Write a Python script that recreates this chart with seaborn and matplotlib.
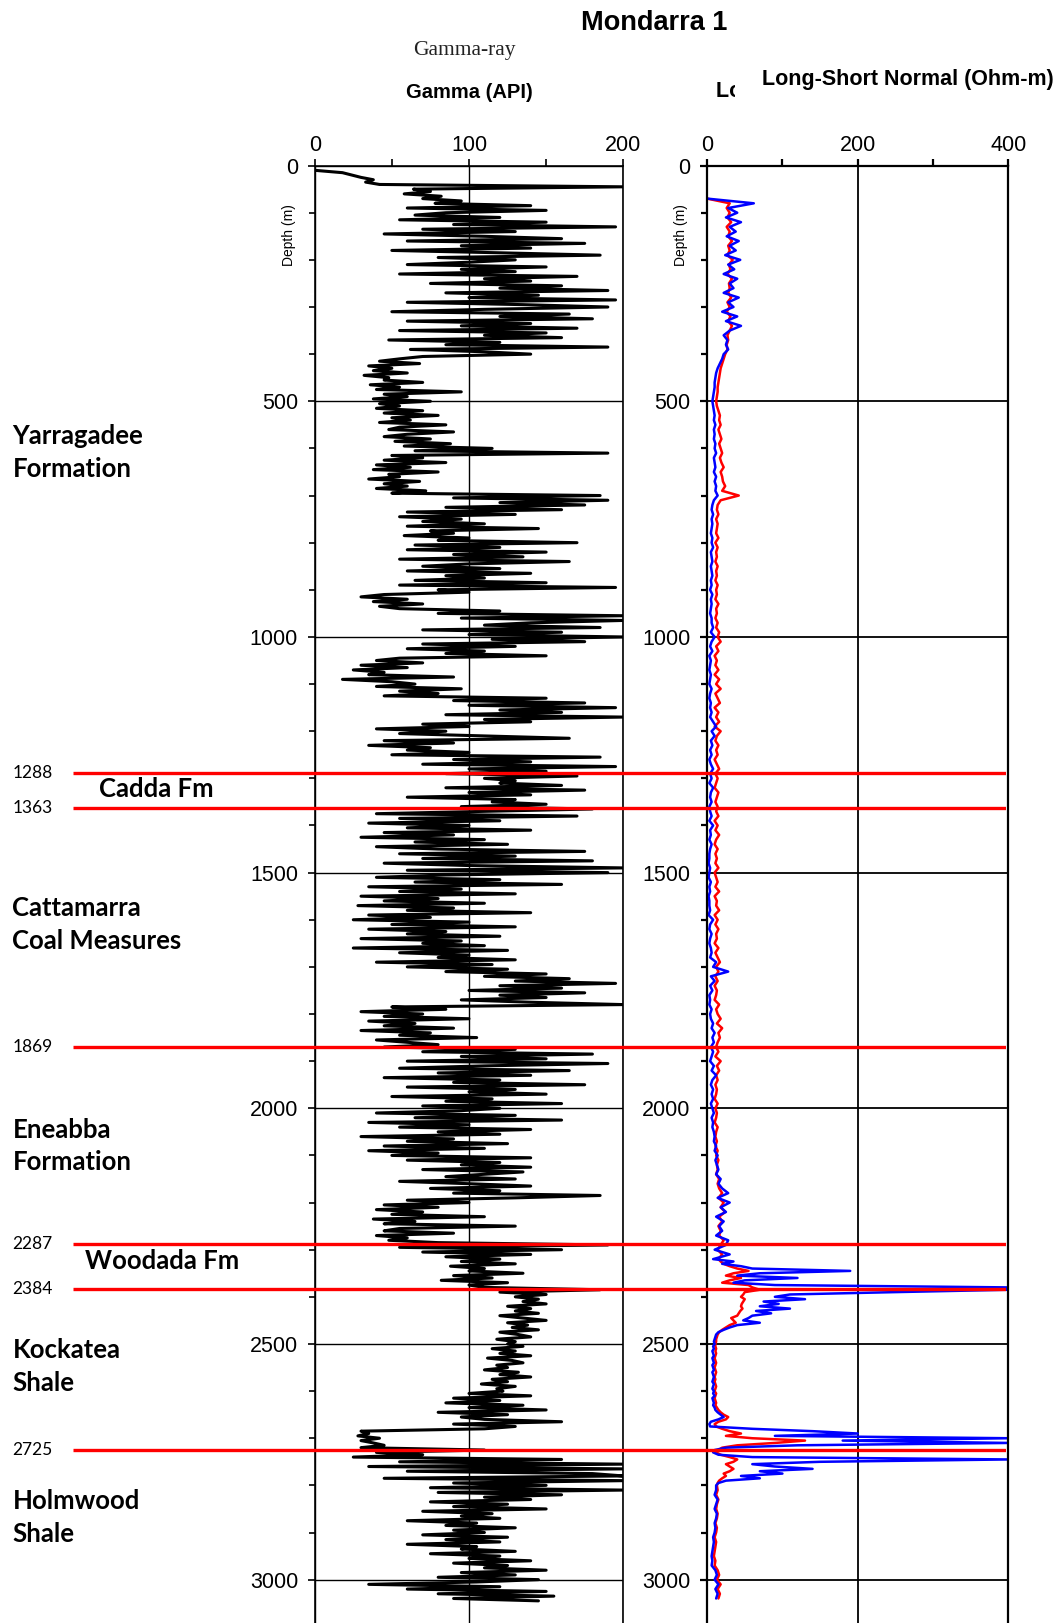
import numpy as np
import pandas as pd
import matplotlib
matplotlib.use("Agg")
import matplotlib.pyplot as plt
import seaborn as sns
from matplotlib import font_manager
from matplotlib.ticker import MultipleLocator
from matplotlib.transforms import blended_transform_factory

# ---------------------------------------------------------------- data
# Gamma-ray log, sampled every 5 m from 10 m to 3045 m (API units)
gamma_depth = np.arange(10, 3050, 5)
gamma_api = [
    0, 18, 24, 30, 38, 33, 42, 200, 64, 75, 58, 82, 70, 95, 78, 140, 60, 150, 85, 65,          # 10-105
    120, 55, 150, 90, 195, 70, 130, 45, 110, 160, 60, 175, 95, 140, 50, 120, 185, 80, 130, 100,  # 110-205
    60, 150, 95, 130, 55, 170, 110, 140, 75, 160, 120, 190, 85, 145, 100, 195, 60, 135, 190, 110,  # 210-305
    50, 165, 120, 180, 60, 140, 95, 170, 55, 150, 110, 160, 48, 120, 85, 190, 62, 110, 140, 70,  # 310-405
    55, 42, 68, 35, 50, 38, 60, 32, 48, 45, 70, 36, 55, 40, 95, 45, 60, 38, 75, 42,             # 410-505
    55, 40, 70, 45, 80, 50, 62, 42, 85, 55, 48, 90, 60, 45, 75, 52, 88, 58, 115, 65,            # 510-605
    190, 50, 70, 45, 85, 40, 62, 38, 80, 48, 55, 35, 68, 45, 60, 40, 72, 50, 185, 90,           # 610-705
    190, 120, 175, 85, 160, 60, 130, 55, 95, 70, 110, 60, 145, 75, 90, 58, 100, 80, 170, 65,    # 710-805
    120, 60, 150, 90, 135, 55, 165, 100, 70, 120, 60, 140, 85, 110, 65, 150, 55, 195, 80, 100,  # 810-905
    45, 30, 60, 38, 70, 42, 55, 120, 80, 200, 95, 200, 140, 110, 185, 70, 160, 100, 200, 115,   # 910-1005
    175, 70, 130, 60, 110, 85, 150, 55, 40, 70, 30, 60, 25, 45, 35, 90, 18, 50, 65, 40,         # 1010-1105
    95, 55, 80, 45, 150, 90, 175, 100, 195, 120, 160, 85, 200, 110, 140, 70, 100, 40, 85, 55,   # 1110-1205
    110, 165, 45, 90, 35, 75, 60, 100, 50, 185, 90, 140, 70, 195, 100, 150, 85, 170, 110, 130,  # 1210-1305
    120, 160, 85, 175, 100, 140, 60, 130, 115, 150, 95, 180, 110, 40, 170, 55, 120, 35, 100, 60,  # 1310-1405
    140, 45, 90, 30, 110, 65, 125, 40, 80, 175, 55, 130, 70, 180, 45, 100, 200, 60, 190, 85,    # 1410-1505
    40, 120, 65, 160, 35, 95, 55, 130, 30, 80, 45, 110, 28, 90, 60, 140, 35, 75, 25, 100,       # 1510-1605
    50, 130, 35, 85, 60, 120, 30, 95, 70, 110, 25, 125, 55, 100, 80, 130, 40, 115, 60, 125,     # 1610-1705
    85, 150, 110, 165, 130, 195, 120, 160, 100, 175, 120, 150, 95, 140, 200, 50, 85, 30, 70, 45,  # 1710-1805
    100, 35, 65, 45, 90, 30, 75, 55, 105, 40, 60, 80, 45, 130, 70, 180, 95, 150, 60, 190,       # 1810-1905
    110, 55, 165, 80, 140, 45, 120, 90, 175, 60, 130, 100, 150, 50, 115, 85, 160, 70, 120, 95,  # 1910-2005
    40, 130, 65, 160, 35, 100, 55, 140, 80, 120, 30, 90, 60, 125, 45, 110, 35, 80, 50, 140,     # 2010-2105
    60, 120, 95, 140, 70, 135, 110, 85, 130, 55, 100, 140, 75, 120, 90, 185, 130, 60, 100, 45,  # 2110-2205
    80, 40, 70, 50, 110, 38, 65, 45, 130, 55, 45, 90, 40, 60, 48, 80, 190, 55, 160, 70,         # 2210-2305
    140, 85, 120, 95, 130, 88, 110, 100, 135, 90, 115, 82, 125, 100, 110, 185, 120, 150, 130, 145,  # 2310-2405
    135, 150, 125, 140, 130, 145, 120, 135, 150, 125, 138, 128, 145, 120, 132, 140, 118, 130, 125, 135,  # 2410-2505
    115, 130, 120, 140, 112, 128, 135, 118, 125, 110, 132, 120, 140, 115, 125, 108, 130, 118, 122, 100,  # 2510-2605
    140, 90, 120, 85, 135, 100, 150, 80, 125, 95, 110, 160, 90, 130, 110, 30, 35, 28, 42, 30,   # 2610-2705
    38, 45, 30, 110, 40, 70, 25, 160, 55, 200, 35, 200, 60, 180, 200, 45, 200, 90, 150, 75,     # 2710-2805
    200, 80, 160, 110, 140, 75, 125, 90, 150, 70, 115, 95, 120, 60, 105, 85, 130, 90, 110, 70,  # 2810-2905
    125, 85, 120, 60, 105, 95, 130, 75, 120, 100, 140, 90, 125, 110, 150, 95, 130, 80, 145, 105,  # 2910-3005
    35, 120, 60, 150, 80, 155, 90, 145,                                                          # 3010-3045
]

# Resistivity logs (Ohm-m): 10 m steps, 5 m steps through the resistive zone
res_depth = np.concatenate([np.arange(70, 2321, 10),
                            np.arange(2325, 2801, 5),
                            np.arange(2810, 3041, 10)])
short_normal = [
    0, 30, 26, 30, 27, 32, 26, 30, 28, 33,       # 70-160
    28, 30, 27, 34, 29, 31, 27, 33, 29, 30,      # 170-260
    28, 32, 27, 30, 26, 31, 28, 33, 30, 27,      # 270-360
    28, 26, 27, 24, 22, 20, 18, 17, 16, 15,      # 370-460
    14, 14, 13, 12, 13, 15, 17, 16, 18, 15,      # 470-560
    17, 19, 16, 18, 20, 17, 19, 22, 18, 20,      # 570-660
    21, 24, 20, 42, 18, 14, 13, 15, 12, 14,      # 670-760
    13, 12, 15, 11, 14, 12, 13, 11, 14, 12,      # 770-860
    13, 11, 14, 12, 13, 11, 15, 12, 13, 11,      # 870-960
    14, 12, 16, 14, 18, 12, 15, 10, 13, 11,      # 970-1060
    15, 10, 16, 12, 18, 11, 14, 17, 10, 15,      # 1070-1160
    12, 16, 10, 18, 13, 11, 15, 12, 14, 10,      # 1170-1260
    13, 16, 11, 14, 12, 10, 15, 13, 11, 14,      # 1270-1360
    12, 15, 10, 14, 11, 16, 12, 10, 14, 11,      # 1370-1460
    13, 11, 15, 10, 12, 14, 11, 16, 10, 13,      # 1470-1560
    12, 16, 10, 14, 11, 15, 12, 13, 10, 15,      # 1570-1660
    11, 14, 17, 12, 15, 11, 14, 10, 13, 12,      # 1670-1760
    10, 16, 12, 14, 18, 13, 20, 15, 17, 14,      # 1770-1860
    12, 15, 11, 18, 13, 16, 12, 14, 11, 13,      # 1870-1960
    12, 10, 14, 11, 13, 12, 10, 14, 12, 11,      # 1970-2060
    13, 11, 14, 12, 15, 13, 14, 12, 16, 14,      # 2070-2160
    16, 20, 15, 22, 18, 24, 16, 20, 15, 18,      # 2170-2260
    16, 22, 18, 14, 20, 15,                      # 2270-2320
    18, 22, 30, 40, 55, 35, 25, 45, 30, 20,      # 2325-2370
    55, 60, 70, 50, 48, 45, 50, 48, 46, 45,      # 2375-2420
    47, 44, 42, 40, 32, 35, 38, 30, 25, 20,      # 2425-2470
    16, 14, 13, 12, 12, 11, 11, 12, 11, 12,      # 2475-2520
    11, 10, 11, 12, 11, 10, 11, 12, 11, 10,      # 2525-2570
    11, 10, 11, 12, 11, 10, 12, 11, 10, 11,      # 2575-2620
    12, 11, 13, 15, 18, 22, 28,                  # 2625-2655
    25, 15, 10, 12, 20, 30, 45, 25, 60, 130,     # 2660-2705
    90, 40, 20, 15, 12, 18, 30, 40, 35, 25,      # 2710-2755
    30, 35, 30, 22, 25, 20, 16, 14, 13,          # 2760-2800
    14, 12, 15, 13, 12, 14, 13, 11, 13, 12,      # 2810-2900
    10, 12, 11, 10, 9, 11, 10, 14, 16, 13,       # 2910-3000
    18, 14, 17, 15,                              # 3010-3040
]
long_normal = [
    0, 62, 28, 40, 25, 45, 30, 38, 26, 42,       # 70-160
    30, 38, 24, 44, 28, 36, 22, 40, 30, 35,      # 170-260
    22, 42, 28, 35, 20, 40, 25, 45, 30, 22,      # 270-360
    27, 25, 28, 22, 20, 17, 14, 12, 11, 10,      # 370-460
    10, 9, 8, 7, 8, 9, 10, 9, 11, 9,             # 470-560
    10, 9, 11, 10, 12, 9, 10, 11, 9, 12,         # 570-660
    10, 12, 11, 14, 9, 7, 6, 8, 6, 7,            # 670-760
    6, 5, 7, 6, 8, 5, 6, 7, 5, 6,                # 770-860
    7, 5, 6, 4, 7, 5, 6, 5, 4, 6,                # 870-960
    6, 8, 5, 10, 6, 4, 7, 3, 5, 4,               # 970-1060
    3, 5, 4, 3, 6, 4, 3, 5, 4, 6,                # 1070-1160
    4, 8, 12, 6, 10, 5, 7, 4, 6, 3,              # 1170-1260
    5, 8, 4, 6, 3, 8, 5, 4, 6, 3,                # 1270-1360
    4, 6, 3, 8, 4, 5, 3, 6, 4, 3,                # 1370-1460
    3, 2, 4, 3, 2, 5, 3, 4, 2, 3,                # 1470-1560
    3, 4, 2, 8, 4, 3, 6, 4, 3, 5,                # 1570-1660
    6, 4, 12, 8, 28, 5, 10, 4, 7, 3,             # 1670-1760
    4, 3, 6, 4, 5, 8, 6, 10, 7, 9,               # 1770-1860
    5, 8, 6, 4, 9, 6, 12, 7, 5, 8,               # 1870-1960
    6, 8, 5, 7, 9, 6, 8, 7, 9, 10,               # 1970-2060
    9, 12, 10, 14, 11, 13, 15, 12, 18, 15,       # 2070-2160
    20, 28, 14, 30, 18, 25, 12, 22, 16, 20,      # 2170-2260
    12, 28, 25, 10, 30, 8,                       # 2270-2320
    35, 20, 45, 60, 190, 70, 40, 120, 50, 35,    # 2325-2370
    90, 400, 400, 250, 110, 90, 130, 75, 95, 70,  # 2375-2420
    110, 65, 85, 60, 55, 48, 70, 40, 30, 22,     # 2425-2470
    15, 12, 11, 10, 9, 10, 8, 9, 7, 8,           # 2475-2520
    9, 7, 8, 9, 7, 8, 9, 7, 8, 9,                # 2525-2570
    8, 7, 9, 8, 7, 9, 8, 10, 7, 8,               # 2575-2620
    9, 8, 10, 11, 14, 18, 22,                    # 2625-2655
    15, 5, 3, 4, 60, 140, 200, 90, 400, 180,     # 2660-2705
    400, 120, 25, 10, 8, 15, 60, 400, 150, 60,   # 2710-2755
    90, 140, 70, 100, 45, 70, 25, 15, 12,        # 2760-2800
    12, 10, 14, 12, 10, 13, 12, 10, 11, 10,      # 2810-2900
    8, 9, 8, 7, 6, 7, 6, 11, 13, 10,             # 2910-3000
    15, 11, 14, 12,                              # 3010-3040
]

# Formation tops (m) and formation names
top_depths = [1288, 1363, 1869, 2287, 2384, 2725]
formations = ["Yarragadee\nFormation", "Cadda Fm", "Cattamarra\nCoal Measures",
              "Eneabba\nFormation", "Woodada Fm", "Kockatea\nShale", "Holmwood\nShale"]

gamma_df = pd.DataFrame({"depth": gamma_depth, "gamma": gamma_api})
res_df = pd.DataFrame({"depth": res_depth, "short": short_normal, "long": long_normal})

# ---------------------------------------------------------------- style
sns.set_theme(style="white")


def first_font(cands):
    for c in cands:
        try:
            font_manager.findfont(font_manager.FontProperties(family=c),
                                  fallback_to_default=False)
            return c
        except Exception:
            continue
    return "DejaVu Sans"


SANS = first_font(["Liberation Sans", "Arial", "DejaVu Sans"])
NARROW = first_font(["Liberation Sans Narrow", "Liberation Sans"])
LABEL = first_font(["Lato", "Open Sans", "DejaVu Sans"])
SERIF = first_font(["Liberation Serif", "DejaVu Serif"])

plt.rcParams["font.family"] = [SANS, "DejaVu Sans"]
plt.rcParams.update({"text.color": "black", "axes.labelcolor": "black",
                     "xtick.color": "black", "ytick.color": "black",
                     "axes.edgecolor": "black"})

W, H = 1057, 1623
fig = plt.figure(figsize=(W / 100, H / 100), dpi=100)


def fx(px):
    return px / W


def fy(py):
    return 1 - py / H


TOP = 165.6
DMAX = 3092


def style_track(ax, xmax, major, minor, spine_w, grid_w):
    ax.set_xlim(0, xmax)
    ax.set_ylim(DMAX, 0)
    ax.xaxis.tick_top()
    ax.set_xticks(np.arange(0, xmax + 1, major))
    ax.xaxis.set_minor_locator(MultipleLocator(minor))
    ax.set_yticks(np.arange(0, 3001, 500))
    ax.yaxis.set_minor_locator(MultipleLocator(100))
    ax.tick_params(axis="x", which="both", top=True, bottom=False, direction="out",
                   width=spine_w, labelsize=15.5, pad=2)
    ax.tick_params(axis="x", which="major", length=5)
    ax.tick_params(axis="x", which="minor", length=5)
    ax.tick_params(axis="y", which="both", left=True, direction="out",
                   width=spine_w, labelsize=15.5, pad=7)
    ax.tick_params(axis="y", which="major", length=5)
    ax.tick_params(axis="y", which="minor", length=4)
    ax.grid(True, which="major", color="black", lw=grid_w)
    ax.set_axisbelow(True)
    for side in ("top", "left", "right"):
        ax.spines[side].set_visible(True)
        ax.spines[side].set_color("black")
        ax.spines[side].set_linewidth(spine_w)
    ax.spines["bottom"].set_visible(False)
    ax.set_xlabel("")
    ax.set_ylabel("Depth (m)", fontsize=10)
    ax.yaxis.set_label_coords(-0.062, 0.952)
    ax.patch.set_alpha(0)


# ---------------------------------------------------------------- gamma track
ax_g = fig.add_axes([fx(314.7), 0, fx(623.3) - fx(314.7), fy(TOP)])
sns.lineplot(data=gamma_df, x="gamma", y="depth", orient="y", sort=False,
             estimator=None, color="black", lw=2.2, ax=ax_g)
style_track(ax_g, 200, 100, 50, 1.2, 1.0)

# ---------------------------------------------------------------- resistivity track
ax_r = fig.add_axes([fx(707.1), 0, fx(1008.4) - fx(707.1), fy(TOP)])
sns.lineplot(data=res_df, x="short", y="depth", orient="y", sort=False,
             estimator=None, color="#ff0000", lw=1.8, ax=ax_r)
sns.lineplot(data=res_df, x="long", y="depth", orient="y", sort=False,
             estimator=None, color="#0000ff", lw=1.8, ax=ax_r)
style_track(ax_r, 400, 200, 100, 1.6, 1.3)

# ---------------------------------------------------------------- formation tops
ax_t = fig.add_axes([fx(72.5), 0, fx(1006.3) - fx(72.5), fy(TOP)])
ax_t.set_xlim(0, 1)
ax_t.set_ylim(DMAX, 0)
ax_t.axis("off")
ax_t.set_zorder(10)
ax_t.hlines(top_depths, 0, 1, color="#ff0000", lw=2.4)
trans = blended_transform_factory(fig.transFigure, ax_t.transData)
for d in top_depths:
    ax_t.text(fx(12.4), d, str(d), transform=trans, ha="left", va="center",
              fontsize=12.5, family=[LABEL, "DejaVu Sans"])

# formation names (x, y in pixels of the left text column)
name_pos = [(12.4, 452.4), (99.4, 788.9), (12.4, 924.5), (12.4, 1146.0),
            (84.9, 1261.0), (12.4, 1366.6), (12.4, 1517.8)]
for name, (px, py) in zip(formations, name_pos):
    fig.text(fx(px), fy(py), name, ha="left", va="center", fontsize=18.5,
             fontweight="bold", family=[LABEL, "DejaVu Sans"], linespacing=1.45)

# ---------------------------------------------------------------- headings
fig.text(fx(654), fy(23), "Mondarra 1", ha="center", va="center",
         fontsize=19.5, fontweight="bold", family=[NARROW, "DejaVu Sans"])
fig.text(fx(464), fy(51), "Gamma-ray", ha="center", va="center",
         fontsize=15.5, color="#222222", family=[SERIF, "DejaVu Serif"])
fig.text(fx(469), fy(92), "Gamma (API)", ha="center", va="center",
         fontsize=14.5, fontweight="bold")
fig.text(fx(716), fy(92), "Long-Short Normal (Ohm-m)", ha="left", va="center",
         fontsize=15.5, fontweight="bold")
fig.text(fx(908), fy(80), "Long-Short Normal (Ohm-m)", ha="center", va="center",
         fontsize=15.5, fontweight="bold",
         bbox=dict(boxstyle="square,pad=1.25", fc="white", ec="none"))

fig.savefig("out.png", dpi=100)
